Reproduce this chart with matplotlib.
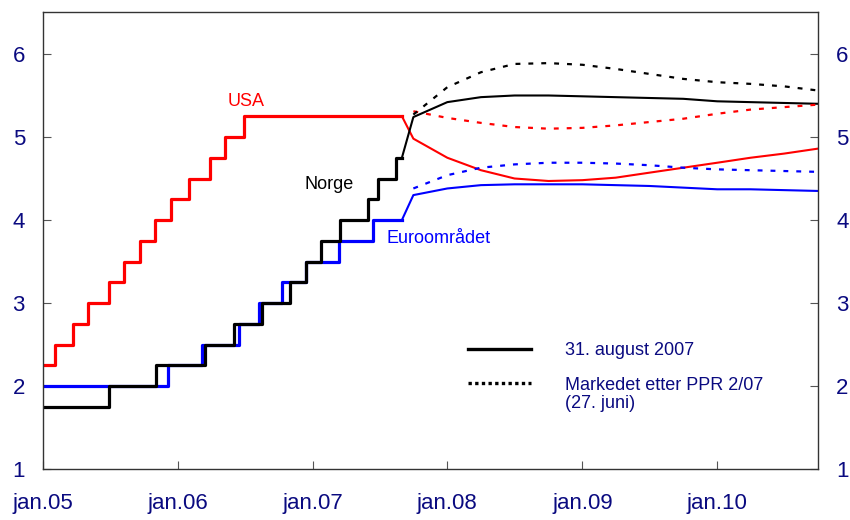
import matplotlib
matplotlib.use("Agg")
import matplotlib.pyplot as plt
from matplotlib.lines import Line2D
import pandas as pd

plt.rcParams['font.family'] = ['Liberation Sans', 'DejaVu Sans']

NAVY = '#0a0a80'

# Policy rates, history (date of change, new level)
usa_dates = ["2005-01-01", "2005-02-02", "2005-03-22", "2005-05-03", "2005-06-30",
             "2005-08-09", "2005-09-20", "2005-11-01", "2005-12-13", "2006-01-31",
             "2006-03-28", "2006-05-10", "2006-06-29", "2007-08-31"]
usa_rates = [2.25, 2.5, 2.75, 3.0, 3.25, 3.5, 3.75, 4.0, 4.25, 4.5, 4.75, 5.0, 5.25, 5.25]

nor_dates = ["2005-01-01", "2005-06-30", "2005-11-02", "2006-03-16", "2006-06-01",
             "2006-08-17", "2006-11-02", "2006-12-14", "2007-01-25", "2007-03-15",
             "2007-05-31", "2007-06-28", "2007-08-16", "2007-08-31"]
nor_rates = [1.75, 2.0, 2.25, 2.5, 2.75, 3.0, 3.25, 3.5, 3.75, 4.0, 4.25, 4.5, 4.75, 4.75]

euro_dates = ["2005-01-01", "2005-12-06", "2006-03-08", "2006-06-15", "2006-08-09",
              "2006-10-11", "2006-12-13", "2007-03-14", "2007-06-13", "2007-08-31"]
euro_rates = [2.0, 2.25, 2.5, 2.75, 3.0, 3.25, 3.5, 3.75, 4.0, 4.0]

# Forward rates 31. august 2007 (first point = last observed rate)
fwd_dates = ["2007-08-31", "2007-10-01", "2008-01-01", "2008-04-01", "2008-07-01",
             "2008-10-01", "2009-01-01", "2009-04-01", "2009-07-01", "2009-10-01",
             "2010-01-01", "2010-04-01", "2010-07-01", "2010-10-01"]
nor_fwd = [4.75, 5.24, 5.42, 5.48, 5.50, 5.50, 5.49, 5.48, 5.47, 5.46, 5.43, 5.42, 5.41, 5.40]
usa_fwd = [5.25, 4.98, 4.75, 4.60, 4.50, 4.47, 4.48, 4.51, 4.57, 4.63, 4.69, 4.75, 4.80, 4.86]
euro_fwd = [4.0, 4.30, 4.38, 4.42, 4.43, 4.43, 4.43, 4.42, 4.41, 4.39, 4.37, 4.37, 4.36, 4.35]

# Market after PPR 2/07 (27. juni)
ppr_dates = fwd_dates[1:]
nor_ppr = [5.27, 5.60, 5.78, 5.88, 5.89, 5.87, 5.82, 5.76, 5.70, 5.66, 5.64, 5.61, 5.56]
usa_ppr = [5.31, 5.23, 5.17, 5.12, 5.10, 5.11, 5.14, 5.18, 5.22, 5.28, 5.33, 5.36, 5.39]
euro_ppr = [4.38, 4.54, 4.63, 4.67, 4.69, 4.69, 4.68, 4.66, 4.63, 4.61, 4.60, 4.59, 4.58]

tick_dates = ["2005-01-01", "2006-01-01", "2007-01-01", "2008-01-01", "2009-01-01", "2010-01-01"]
tick_labels = ["jan.05", "jan.06", "jan.07", "jan.08", "jan.09", "jan.10"]

d = pd.to_datetime
fig = plt.figure(figsize=(8.5, 5.2), dpi=100)
ax = fig.add_axes([0.0506, 0.098, 0.9118, 0.878])

dotted = (0, (2.2, 3.6))
for dates, rates, c in [(usa_dates, usa_rates, 'red'), (euro_dates, euro_rates, 'blue'),
                        (nor_dates, nor_rates, 'black')]:
    ax.step(d(dates), rates, where='post', color=c, lw=2.3)

for vals, c in [(usa_fwd, 'red'), (euro_fwd, 'blue'), (nor_fwd, 'black')]:
    ax.plot(d(fwd_dates), vals, color=c, lw=1.5)
for vals, c in [(usa_ppr, 'red'), (euro_ppr, 'blue'), (nor_ppr, 'black')]:
    ax.plot(d(ppr_dates), vals, color=c, lw=1.6, linestyle=dotted)

ax.text(d("2006-07-05"), 5.43, "USA", color='red', fontsize=13, ha='center', va='center')
ax.text(d("2007-02-15"), 4.43, "Norge", color='black', fontsize=13, ha='center', va='center')
ax.text(d("2007-07-20"), 3.78, "Euroområdet", color='blue', fontsize=13, ha='left', va='center')

ax.set_xlim(d("2005-01-01"), d("2010-10-01"))
ax.set_ylim(1, 6.5)
ax.set_xticks(d(tick_dates))
ax.set_xticklabels(tick_labels)
ax.set_yticks([1, 2, 3, 4, 5, 6])
ax.tick_params(axis='both', direction='in', length=6, color='#555555',
               labelsize=16, labelcolor=NAVY)
ax.tick_params(axis='x', pad=17)
ax.tick_params(axis='y', pad=13, right=True, labelright=True)
for s in ax.spines.values():
    s.set_color('#333333')
    s.set_linewidth(1)

handles = [Line2D([], [], color='black', lw=2.4),
           Line2D([], [], color='black', lw=2.4, linestyle=(0, (1, 1)))]
ax.legend(handles, ["31. august 2007", "Markedet etter PPR 2/07"], loc='upper left',
          bbox_to_anchor=(0.548, 0.278), frameon=False, fontsize=13, labelcolor=NAVY,
          handlelength=3.5, handletextpad=1.9, labelspacing=0.97,
          borderpad=0, borderaxespad=0)
ax.text(0.6735, 0.1446, "(27. juni)", transform=ax.transAxes, fontsize=13,
        color=NAVY, ha='left', va='center')

fig.savefig("out.png", dpi=100)
